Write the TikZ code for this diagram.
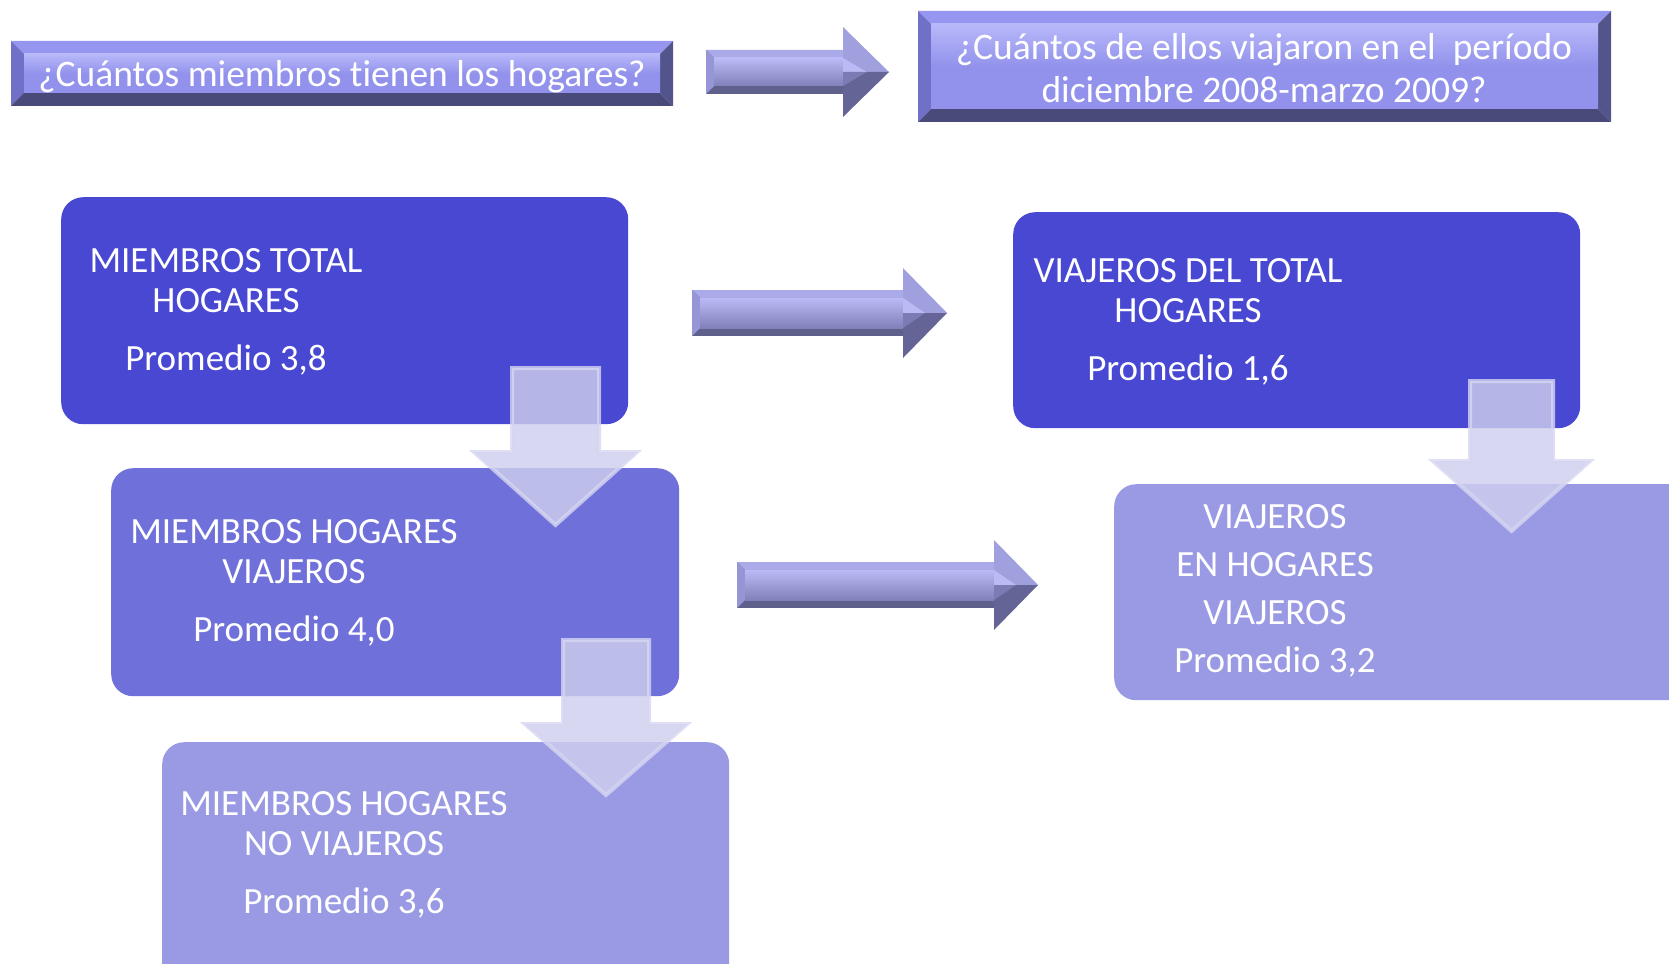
\documentclass[tikz,border=0pt]{standalone}
\usepackage{fontspec}
\setmainfont{Carlito}[Ligatures=NoCommon]
\usetikzlibrary{positioning}

\definecolor{boxdark}{RGB}{72,72,210}
\definecolor{boxmid}{RGB}{112,112,218}
\definecolor{boxlight}{RGB}{154,154,228}
\definecolor{face}{RGB}{146,146,236}
\definecolor{facetop}{RGB}{184,184,250}
\definecolor{bvtop}{RGB}{150,150,240}
\definecolor{bvleft}{RGB}{112,112,200}
\definecolor{bvright}{RGB}{84,84,140}
\definecolor{bvbot}{RGB}{74,74,122}
\definecolor{arrband}{RGB}{170,170,232}
\definecolor{arrleft}{RGB}{150,150,214}
\definecolor{arrtop}{RGB}{186,186,246}
\definecolor{arrmid}{RGB}{212,212,254}
\definecolor{arrlow}{RGB}{128,128,186}
\definecolor{arrbot}{RGB}{96,96,140}
\definecolor{headlt}{RGB}{160,160,222}
\definecolor{headdk}{RGB}{100,100,150}
\definecolor{headinlt}{RGB}{186,186,244}
\definecolor{headindk}{RGB}{124,124,180}
\definecolor{downfill}{RGB}{206,206,238}
\definecolor{downline}{RGB}{214,214,242}

% beveled question box: x0, y0, x1, y1
\newcommand{\bevelbox}[4]{
  \fill[bvtop] (#1,#2) -- (#3,#2) -- ({#3-13},{#2+13}) -- ({#1+13},{#2+13}) -- cycle;
  \fill[bvleft] (#1,#2) -- ({#1+13},{#2+13}) -- ({#1+13},{#4-13}) -- (#1,#4) -- cycle;
  \fill[bvright] (#3,#2) -- (#3,#4) -- ({#3-13},{#4-13}) -- ({#3-13},{#2+13}) -- cycle;
  \fill[bvbot] (#1,#4) -- ({#1+13},{#4-13}) -- ({#3-13},{#4-13}) -- (#3,#4) -- cycle;
  \shade[top color=facetop, bottom color=face, middle color=face] ({#1+13},{#2+13}) rectangle ({#3-13},{#4-13});
}
% right block arrow: x start, head base x, tip x, y centre, half shaft, half head
\newcommand{\rarrow}[6]{
  \fill[arrbot] (#1,{#4-#5}) rectangle (#2,{#4+#5});
  \fill[arrband] (#1,{#4-#5}) -- (#2,{#4-#5}) -- (#2,{#4-#5+8}) -- ({#1+8},{#4-#5+8}) -- cycle;
  \fill[arrleft] (#1,{#4-#5}) -- ({#1+8},{#4-#5+8}) -- ({#1+8},{#4+#5-8}) -- (#1,{#4+#5}) -- cycle;
  \shade[top color=arrtop, middle color=arrmid, bottom color=arrlow] ({#1+8},{#4-#5+8}) rectangle (#2,{#4+#5-8});
  \fill[headlt] (#2,{#4-#6}) -- (#3,#4) -- (#2,#4) -- cycle;
  \fill[headdk] (#2,#4) -- (#3,#4) -- (#2,{#4+#6}) -- cycle;
  \fill[headinlt] (#2,{#4-#5+8}) -- ({#3-22},#4) -- (#2,#4) -- cycle;
  \fill[headindk] (#2,#4) -- ({#3-22},#4) -- (#2,{#4+#5-8}) -- cycle;
}
% down block arrow: shaft x0, shaft x1, top y, head y, head x0, head x1, tip y
\newcommand{\darrow}[7]{
  \filldraw[downarr] (#1,#3) -- (#2,#3) -- (#2,#4) -- (#6,#4) -- ({(#1+#2)/2},#7) -- (#5,#4) -- (#1,#4) -- cycle;
}

\begin{document}
\begin{tikzpicture}[x=1pt, y=-1pt,
  box/.style={rounded corners=22pt, inner sep=0pt, anchor=north west},
  txt/.style={text=white, align=center, inner sep=0pt, font=\fontsize{37}{40.4}\selectfont},
  qtxt/.style={text=white, align=center, inner sep=0pt, font=\fontsize{37.5}{43.6}\selectfont},
  downarr/.style={fill=downfill, fill opacity=0.82, draw=downline, line width=4pt, draw opacity=0.8}]
  \useasboundingbox (0,0) rectangle (1669,963);

  % questions
  \bevelbox{11}{41}{673}{106}
  \node[qtxt] (q1) at (342,77) {¿Cuántos miembros tienen los hogares?};
  \bevelbox{918}{11}{1611}{122}
  \node[qtxt] (q2) at (1264,68) {¿Cuántos de ellos viajaron en el~ período\\diciembre 2008-marzo 2009?};
  \rarrow{706}{843}{889}{72}{22}{45}

  % boxes
  \node[box, fill=boxdark, minimum width=567pt, minimum height=227pt] (total) at (61,197) {};
  \node[box, fill=boxmid, minimum width=568pt, minimum height=228pt] (viaj) at (111,468) {};
  \node[box, fill=boxlight, minimum width=567pt, minimum height=260pt] (noviaj) at (162,742) {};
  \node[box, fill=boxdark, minimum width=567pt, minimum height=216pt] (vtotal) at (1013,212) {};
  \node[box, fill=boxlight, minimum width=600pt, minimum height=216pt] (venhog) at (1114,484) {};

  \node[txt, anchor=north] (t1) at (226,248) {MIEMBROS TOTAL\\HOGARES\\[17pt]Promedio 3,8};
  \node[txt, anchor=north] (t2) at (294,519) {MIEMBROS HOGARES\\VIAJEROS\\[17pt]Promedio 4,0};
  \node[txt, anchor=north] (t3) at (344,791) {MIEMBROS HOGARES\\NO VIAJEROS\\[17pt]Promedio 3,6};
  \node[txt, anchor=north] (t4) at (1188,258) {VIAJEROS DEL TOTAL\\HOGARES\\[17pt]Promedio 1,6};
  \node[txt, anchor=north, font=\fontsize{37}{48}\selectfont] (t5) at (1275,504) {VIAJEROS\\EN HOGARES\\VIAJEROS\\Promedio 3,2};

  % arrows
  \rarrow{692}{903}{947}{313}{23}{45}
  \rarrow{737}{994}{1038}{585}{23}{45}
  \darrow{512}{599}{368}{452}{474}{637}{525}
  \darrow{563}{649}{640}{724}{525}{687}{795}
  \darrow{1470}{1553}{381}{461}{1433}{1590}{531}
\end{tikzpicture}
\end{document}
